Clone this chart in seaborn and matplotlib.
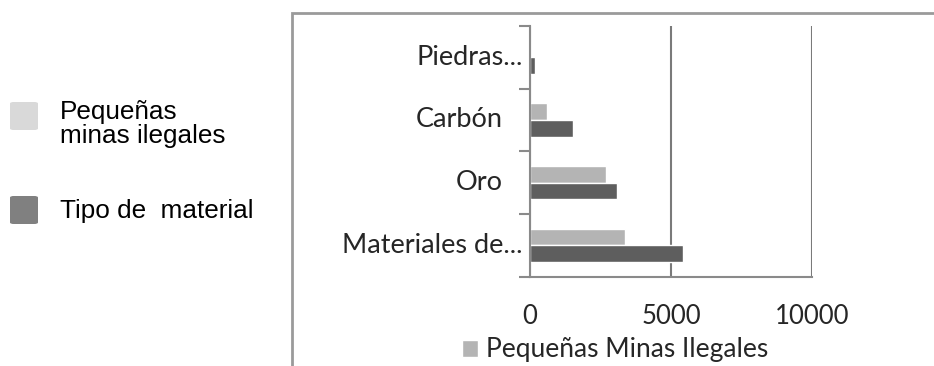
import matplotlib
matplotlib.use("Agg")
import matplotlib.pyplot as plt
import seaborn as sns
import pandas as pd
from matplotlib.patches import FancyBboxPatch, Rectangle

# Data
categories = ["Piedras...", "Carbón", "Oro", "Materiales de..."]
pequenas_minas = [0, 620, 2700, 3380]
tipo_material = [170, 1530, 3100, 5430]
series_names = ["Pequeñas Minas Ilegales", "Tipo de material"]
x_ticks = [0, 5000, 10000]
side_legend_labels = ["Pequeñas\nminas ilegales", "Tipo de  material"]

df = pd.DataFrame({
    "categoria": categories * 2,
    "valor": pequenas_minas + tipo_material,
    "serie": [series_names[0]] * len(categories) + [series_names[1]] * len(categories),
})

sns.set_theme(style="white")
plt.rcParams["font.family"] = ["Lato", "DejaVu Sans"]

W, H = 934, 366
fig = plt.figure(figsize=(W / 100, H / 100), dpi=100)
fig.patch.set_facecolor("white")

TEXT_COLOR = "#262626"
LABEL_SIZE = 19.5
DIGIT_SIZE = 18.5

# Outer chart frame
fig.add_artist(Rectangle((292 / W, -0.1), 1.0, 1.1 - 12.5 / H,
                         transform=fig.transFigure, fill=False,
                         edgecolor="#9a9a9a", linewidth=2.0, clip_on=False))

ax = fig.add_axes([530 / W, 1 - 276.5 / H, 282 / W, 250.5 / H])
light, dark = "#b4b4b4", "#5e5e5e"
sns.barplot(data=df, y="categoria", x="valor", hue="serie",
            order=categories, hue_order=series_names,
            palette=[light, dark], saturation=1, width=0.53,
            orient="h", ax=ax, legend=True)

ax.set_xlim(0, 10000)
ax.set_ylim(3.5, -0.5)
ax.set_xlabel("")
ax.set_ylabel("")

# Spines and gridlines
for side in ("top", "right"):
    ax.spines[side].set_visible(False)
for side in ("left", "bottom"):
    ax.spines[side].set_color("#8a8a8a")
    ax.spines[side].set_linewidth(1.5)
ax.set_xticks(x_ticks)
ax.set_xticklabels([str(t) for t in x_ticks], fontsize=DIGIT_SIZE, color=TEXT_COLOR)
ax.xaxis.grid(True, color="#7a7a7a", linewidth=1.5)
ax.set_axisbelow(True)
ax.tick_params(axis="x", length=9, width=1.5, color="#8a8a8a", pad=11)

# Category boundary ticks on y, labels placed per category
ax.set_yticks([-0.5, 0.5, 1.5, 2.5, 3.5])
ax.set_yticklabels([])
ax.tick_params(axis="y", length=8, width=1.5, color="#8a8a8a", left=True)
label_offsets = [7, 27, 27, 7]
for i, (lab, off) in enumerate(zip(categories, label_offsets)):
    ax.annotate(lab, xy=(0, i), xycoords=("axes fraction", "data"),
                xytext=(-off, 0), textcoords="offset pixels",
                ha="right", va="center", fontsize=LABEL_SIZE, color=TEXT_COLOR)

# In-chart legend showing the first series only
handles, labels = ax.get_legend_handles_labels()
ax.get_legend().remove()
fig.legend(handles[:1], labels[:1], loc="center left",
           bbox_to_anchor=(449 / W, 1 - 350 / H), frameon=False,
           fontsize=19, handlelength=0.6, handleheight=0.6,
           handletextpad=0.3, borderpad=0, labelcolor=TEXT_COLOR)

# Side legend
side_colors = ["#d9d9d9", "#808080"]
side_centers = [116, 210]
for col, yc in zip(side_colors, side_centers):
    fig.add_artist(FancyBboxPatch((10 / W, 1 - (yc + 14) / H), 28 / W, 28 / H,
                                  boxstyle="round,pad=0,rounding_size=0.004",
                                  transform=fig.transFigure,
                                  facecolor=col, edgecolor="none"))
side_font = ["Liberation Sans", "DejaVu Sans"]
fig.text(60 / W, 1 - 124 / H, side_legend_labels[0], ha="left", va="center",
         fontsize=18.8, family=side_font, color="black", linespacing=1.05)
fig.text(60 / W, 1 - 211 / H, side_legend_labels[1], ha="left", va="center",
         fontsize=18.8, family=side_font, color="black")

fig.savefig("out.png", dpi=100, facecolor="white")
